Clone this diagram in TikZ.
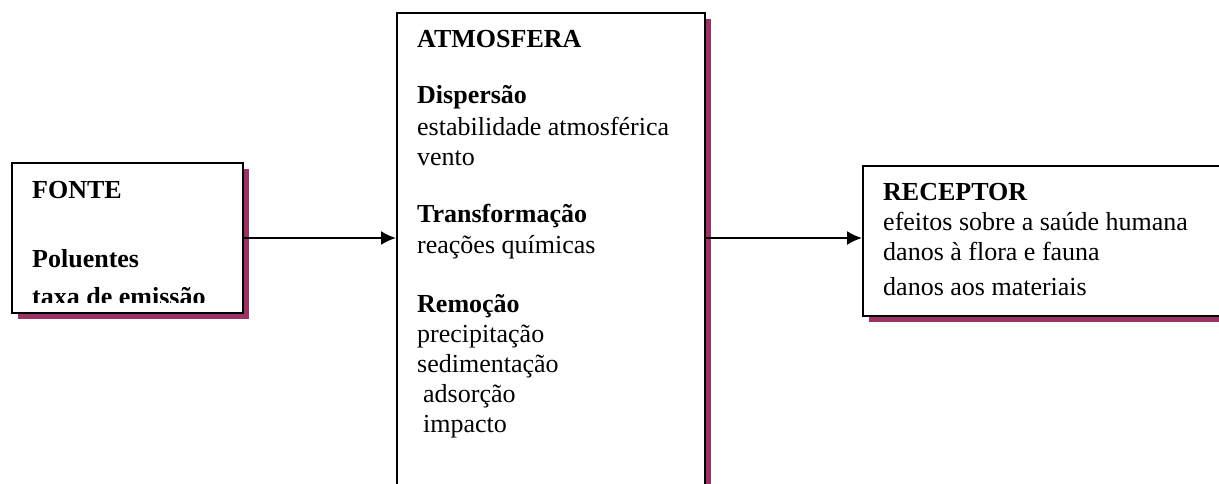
\documentclass[tikz,border=0pt]{standalone}
\usepackage{fontspec}
\setmainfont{Liberation Serif}
\usepackage{tikz}
\usetikzlibrary{arrows.meta,shadows}
\definecolor{Plum}{HTML}{993366}

\begin{document}
\begin{tikzpicture}[x=1pt, y=-1pt, font=\fontsize{26}{30}\selectfont, >={Latex[length=15pt,width=14pt]}]
\tikzset{stage/.style={draw=black, line width=2pt, fill=white, inner sep=0pt, anchor=north west, drop shadow={shadow xshift=6pt, shadow yshift=-6pt, fill=Plum, opacity=1}}, txt/.style={anchor=base west, inner sep=0pt}, flow/.style={->, line width=2pt, black}}
\useasboundingbox (0,0) rectangle (1219,483);
\clip (0,0) rectangle (1219,483);
\node[stage, minimum width=231pt, minimum height=150pt] (fonte) at (11,162) {};
\node[stage, minimum width=308pt, minimum height=520pt] (atmos) at (396,12) {};
\node[stage, minimum width=420pt, minimum height=150pt] (receptor) at (862,165) {};
\draw[flow] (fonte.east) -- (fonte.east -| atmos.west);
\draw[flow] (fonte.east -| atmos.east) -- (fonte.east -| receptor.west);
% fonte
\begin{scope}
\clip (11,162) rectangle (242,302);
\node[txt] (fonteT) at (32,198) {\bfseries FONTE};
\node[txt] (polu) at (32,267) {\bfseries Poluentes};
\node[txt] (taxa) at (32,305) {\bfseries taxa de emissão};
\end{scope}
% atmosfera
\node[txt] (atmosT) at (417,47) {\bfseries ATMOSFERA};
\node[txt] (disp) at (417,103) {\bfseries Dispersão};
\node[txt] (estab) at (417,135) {estabilidade atmosférica};
\node[txt] (vento) at (417,165) {vento};
\node[txt] (transf) at (417,222) {\bfseries Transformação};
\node[txt] (reac) at (417,253) {reações químicas};
\node[txt] (remo) at (417,312) {\bfseries Remoção};
\node[txt] (prec) at (417,342) {precipitação};
\node[txt] (sedi) at (417,372) {sedimentação};
\node[txt] (adso) at (423,402) {adsorção};
\node[txt] (impa) at (423,432) {impacto};
% receptor
\node[txt] (recepT) at (883,200) {\bfseries RECEPTOR};
\node[txt] (saude) at (883,230) {efeitos sobre a saúde humana};
\node[txt] (flora) at (883,260) {danos à flora e fauna};
\node[txt] (mater) at (883,295) {danos aos materiais};
\end{tikzpicture}
\end{document}
